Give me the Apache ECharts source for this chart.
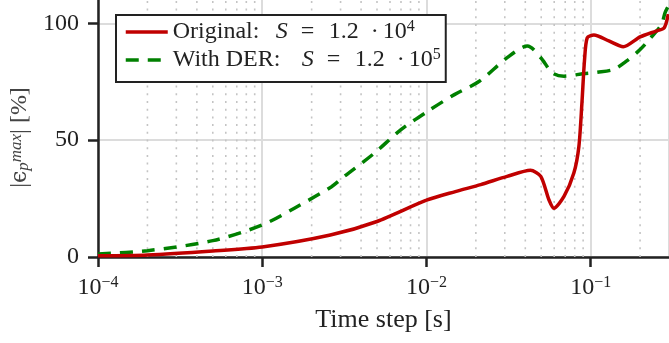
<!DOCTYPE html>
<html>
<head>
<meta charset="utf-8">
<script src="https://cdn.jsdelivr.net/npm/echarts@6/dist/echarts.min.js"></script>
<style>
  html, body { margin: 0; padding: 0; background: #fff; }
  #chart { width: 669px; height: 343px; }
</style>
</head>
<body>
<div id="chart"></div>
<script>
// Original: S = 1.2e4
const origX = [1e-4, 2e-4, 5e-4, 1e-3, 2.6e-3, 5e-3, 1e-2, 1.5e-2, 2.14e-2, 3.1e-2, 0.043, 0.0497, 0.0557, 0.0597, 0.0688, 0.079, 0.0848, 0.0885, 0.0918, 0.0953, 0.1047, 0.129, 0.158, 0.2, 0.25, 0.28, 0.297]
const origY = [0.5, 0.9, 2.6, 4.3, 9.4, 15.2, 24.3, 28, 31, 34.5, 37.1, 34.5, 24.5, 20.9, 25.9, 35.9, 47.3, 66, 84.5, 93.8, 95, 92.5, 90, 94.2, 96.7, 98, 104]
// With DER: S = 1.2e5
const derX = [1e-4, 2e-4, 5e-4, 1e-3, 1.58e-3, 2.63e-3, 3.16e-3, 4.83e-3, 7.0e-3, 1.02e-2, 1.48e-2, 2.1e-2, 3.1e-2, 0.0412, 0.0497, 0.0585, 0.0688, 0.091, 0.11, 0.138, 0.165, 0.2, 0.232, 0.27, 0.284, 0.3]
const derY = [1.3, 2.7, 7.0, 13.7, 21, 30, 34.5, 44.5, 54.5, 62.4, 69.5, 75.2, 85.3, 90.3, 85.3, 78.8, 77.4, 78.5, 79.1, 80.3, 83.8, 88.8, 93.8, 99.6, 104.6, 108]
const yTicks = [0, 50, 100]
const decades = [1e-4, 1e-3, 1e-2, 1e-1]

// dotted minor grid at 2..9 x decade
const minorX = []
decades.forEach(d => {
  for (let m = 2; m <= 9; m++) {
    if (d * m < 0.299) minorX.push(d * m)
  }
})

const serif = 'Liberation Serif'
const ink = '#222'
const supMap = { '-4': '−4', '-3': '−3', '-2': '−2', '-1': '−1' }

const chart = echarts.init(document.getElementById('chart'))

const minorSeries = minorX.map(v => ({
  type: 'line',
  silent: true,
  z: 1,
  symbol: 'none',
  data: [[v, 0], [v, 110]],
  lineStyle: { color: '#c4c4c4', width: 1.6, type: [2, 5.7] }
}))

const option = {
  animation: false,
  textStyle: { fontFamily: serif, color: ink },
  grid: { left: 96, right: 0, top: 0, bottom: 86, containLabel: false },
  legend: {
    orient: 'vertical',
    left: 116,
    top: 15,
    padding: [4, 5, 10, 8],
    itemGap: 3,
    itemWidth: 42,
    itemHeight: 14,
    borderColor: ink,
    borderWidth: 2,
    borderRadius: 0,
    backgroundColor: '#fff',
    itemStyle: { opacity: 0, borderWidth: 0 },
    lineStyle: { width: 3.5 },
    data: ['orig', 'der'],
    formatter: (name) => {
      if (name === 'orig') return '{a|Original:}{i|S}{e|=}{c|1.2}{d|·}{t|10}{s|4}'
      return '{b|With DER:}{i|S}{e|=}{c|1.2}{d|·}{t|10}{s|5}'
    },
    textStyle: {
      rich: {
        a: { fontFamily: serif, fontSize: 24, color: ink, lineHeight: 26, width: 103 },
        b: { fontFamily: serif, fontSize: 24, color: ink, lineHeight: 26, width: 129 },
        i: { fontFamily: serif, fontSize: 24, fontStyle: 'italic', color: ink, lineHeight: 26, width: 25 },
        e: { fontFamily: serif, fontSize: 24, color: ink, lineHeight: 26, width: 28 },
        c: { fontFamily: serif, fontSize: 24, color: ink, lineHeight: 26, width: 38 },
        d: { fontFamily: serif, fontSize: 24, color: ink, lineHeight: 26, width: 16, align: 'center' },
        t: { fontFamily: serif, fontSize: 24, color: ink, lineHeight: 26 },
        s: { fontFamily: serif, fontSize: 16, color: ink, verticalAlign: 'top', lineHeight: 26 }
      }
    }
  },
  xAxis: {
    type: 'log',
    logBase: 10,
    min: 1e-4,
    max: 0.3,
    name: 'Time step [s]',
    nameLocation: 'middle',
    nameGap: 50,
    nameTextStyle: { fontFamily: serif, fontSize: 26, color: ink },
    axisLine: { onZero: false, lineStyle: { color: ink, width: 2.5 } },
    axisTick: { show: true, length: 10, lineStyle: { color: ink, width: 2.5 } },
    axisLabel: {
      margin: 18,
      showMaxLabel: false,
      formatter: (v) => {
        const e = Math.round(Math.log10(v))
        return '{b|10}{s|' + (supMap[String(e)] || e) + '}'
      },
      rich: {
        b: { fontFamily: serif, fontSize: 24, color: ink, lineHeight: 26 },
        s: { fontFamily: serif, fontSize: 16, color: ink, verticalAlign: 'top', lineHeight: 26 }
      }
    },
    splitLine: { show: true, lineStyle: { color: '#dcdcdc', width: 2 } },
    minorTick: { show: false },
    minorSplitLine: { show: false }
  },
  yAxis: {
    type: 'value',
    min: 0,
    max: 110,
    interval: 50,
    name: '|{i|ϵ}{sub|p}{sup|max}| [%]',
    nameLocation: 'middle',
    nameGap: 66,
    nameRotate: 90,
    nameTextStyle: {
      fontFamily: serif, fontSize: 24, color: '#444',
      padding: [0, 18, 0, 0],
      rich: {
        i: { fontFamily: 'DejaVu Serif', fontSize: 22, color: '#444' },
        sub: { fontFamily: serif, fontSize: 17, fontStyle: 'italic', color: '#444', verticalAlign: 'bottom' },
        sup: { fontFamily: serif, fontSize: 17, fontStyle: 'italic', color: '#444', verticalAlign: 'top' }
      }
    },
    axisLine: { show: true, lineStyle: { color: ink, width: 2.5 } },
    axisTick: { show: true, length: 10, customValues: yTicks, lineStyle: { color: ink, width: 2.5 } },
    axisLabel: { customValues: yTicks, margin: 19, fontFamily: serif, fontSize: 24, color: ink },
    splitLine: { show: true, lineStyle: { color: '#dcdcdc', width: 2 } }
  },
  series: minorSeries.concat([
    {
      name: 'der',
      type: 'line',
      z: 3,
      smooth: 0.3,
      symbol: 'none',
      data: derX.map((x, i) => [x, derY[i]]),
      itemStyle: { color: '#008000' },
      lineStyle: { color: '#008000', width: 3.5, type: [13, 9] }
    },
    {
      name: 'orig',
      type: 'line',
      z: 4,
      smooth: 0.25,
      symbol: 'none',
      data: origX.map((x, i) => [x, origY[i]]),
      itemStyle: { color: '#c00000' },
      lineStyle: { color: '#c00000', width: 3.5 }
    }
  ])
}

chart.setOption(option)
</script>
</body>
</html>
